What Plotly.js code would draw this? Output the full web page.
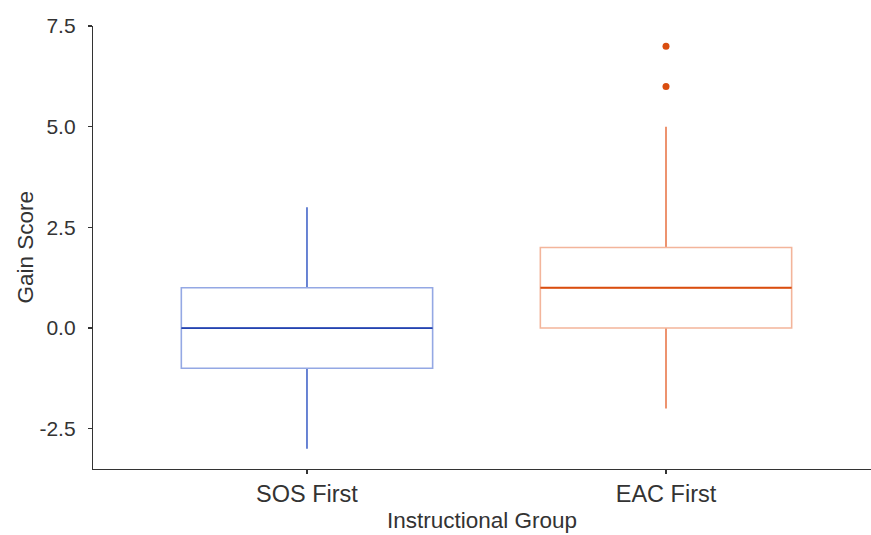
<!DOCTYPE html>
<html><head><meta charset="utf-8">
<script src="https://cdn.plot.ly/plotly-3.0.1.min.js"></script>
<style>html,body{margin:0;padding:0;background:#fff}#chart{width:871px;height:535px}</style>
</head><body><div id="chart"></div>
<script>
const categories = ["SOS First", "EAC First"];
const lowerWhisker = [-3, -2];
const q1 = [-1, 0];
const median = [0, 1];
const q3 = [1, 2];
const upperWhisker = [3, 5];
const outlierCat = ["EAC First", "EAC First"];
const outlierVal = [6, 7];
const yTickVals = [-2.5, 0, 2.5, 5, 7.5];
const yTickText = ["-2.5", "0.0", "2.5", "5.0", "7.5"];

const boxColors = ["#94a8e4", "#f3b59b"];
const whiskerColors = ["#4566c9", "#e9794c"];
const medianColors = ["#2443b0", "#d94d0f"];

const traces = [];
categories.forEach((c, i) => {
  traces.push({type: "box", x: [c], q1: [q1[i]], median: [median[i]], q3: [q3[i]],
    lowerfence: [lowerWhisker[i]], upperfence: [upperWhisker[i]],
    width: 0.0001, whiskerwidth: 0, line: {color: whiskerColors[i], width: 1.6},
    fillcolor: "rgba(0,0,0,0)", hoverinfo: "skip", showlegend: false});
  traces.push({type: "box", x: [c], q1: [q1[i]], median: [median[i]], q3: [q3[i]],
    lowerfence: [q1[i]], upperfence: [q3[i]],
    width: 0.7, whiskerwidth: 0, line: {color: boxColors[i], width: 1.6},
    fillcolor: "#ffffff", showlegend: false});
  traces.push({type: "box", x: [c], q1: [median[i]], median: [median[i]], q3: [median[i]],
    lowerfence: [median[i]], upperfence: [median[i]],
    width: 0.7, whiskerwidth: 0, line: {color: medianColors[i], width: 1.8},
    fillcolor: "rgba(0,0,0,0)", hoverinfo: "skip", showlegend: false});
});
traces.push({type: "scatter", mode: "markers", x: outlierCat, y: outlierVal,
  marker: {color: medianColors[1], size: 7}, showlegend: false});

const layout = {
  width: 871, height: 535,
  margin: {l: 93, r: 0, t: 26, b: 66},
  paper_bgcolor: "#fff", plot_bgcolor: "#fff",
  boxmode: "overlay",
  font: {family: "Liberation Sans, Arial, sans-serif", color: "#333"},
  xaxis: {type: "category", categoryorder: "array", categoryarray: categories,
    range: [-0.596, 1.571], showgrid: false, zeroline: false,
    showline: true, linecolor: "#333", linewidth: 1.2,
    ticks: "outside", ticklen: 4, tickcolor: "#333", tickwidth: 1.2,
    tickfont: {size: 23.5, color: "#333"},
    title: {text: "Instructional Group", font: {size: 22.5, color: "#333"}, standoff: 5}},
  yaxis: {range: [-3.5, 7.5], tickvals: yTickVals, ticktext: yTickText,
    showgrid: false, zeroline: false,
    showline: true, linecolor: "#333", linewidth: 1.2,
    ticks: "outside", ticklen: 4, tickcolor: "#333", tickwidth: 1.2,
    ticklabelstandoff: 8,
    tickfont: {size: 21, color: "#333"}},
  annotations: [{text: "Gain Score", xref: "paper", yref: "paper", x: 0, y: 0.5,
    xanchor: "center", yanchor: "middle", xshift: -68, textangle: -90,
    showarrow: false, font: {size: 22.5, color: "#333"}}]
};
Plotly.newPlot("chart", traces, layout, {displayModeBar: false, staticPlot: true});
</script></body></html>
